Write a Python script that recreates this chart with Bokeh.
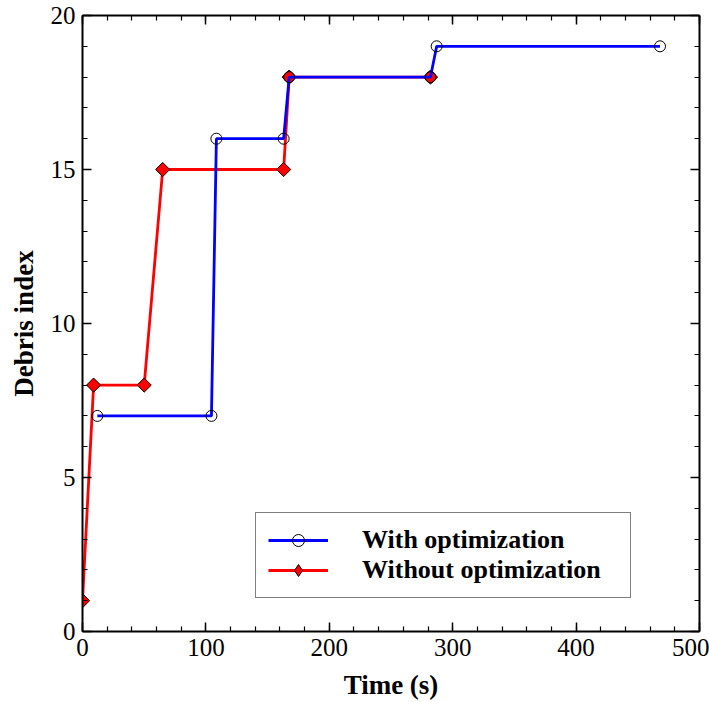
import numpy as np
from bokeh.plotting import figure
from bokeh.models import (ColumnDataSource, LinearAxis, SingleIntervalTicker, Range1d,
                          Legend, LegendItem, CustomJSTickFormatter)
from bokeh.embed import file_html
from bokeh.resources import INLINE

# Data
with_t = [12, 104.5, 108.5, 163, 167.5, 282, 287, 468]
with_idx = [7, 7, 16, 16, 18, 18, 19, 19]
without_t = [0, 9, 50, 65, 163, 167.5, 282]
without_idx = [1, 8, 8, 15, 15, 18, 18]
x_label = "Time (s)"
y_label = "Debris index"
series_names = ["With optimization", "Without optimization"]

FONT = "Liberation Serif"

p = figure(width=709, height=702, output_backend="svg", toolbar_location=None,
           x_range=Range1d(0, 500), y_range=Range1d(0, 20),
           min_border_left=82, min_border_right=10, min_border_top=15, min_border_bottom=60,
           x_axis_location=None, y_axis_location=None)
p.xgrid.visible = False
p.ygrid.visible = False
p.outline_line_color = None
p.background_fill_color = "white"
p.border_fill_color = "white"


def style_axis(ax, labels=True):
    ax.axis_line_color = "black"
    ax.axis_line_width = 2
    ax.major_tick_in = 9
    ax.major_tick_out = 0
    ax.minor_tick_in = 5
    ax.minor_tick_out = 0
    ax.major_tick_line_color = "black"
    ax.minor_tick_line_color = "black"
    ax.major_tick_line_width = 1.5
    ax.minor_tick_line_width = 1.2
    ax.major_label_text_font = FONT
    ax.major_label_text_font_size = "25px"
    ax.major_label_text_color = "black"
    ax.axis_label_text_font = FONT
    ax.axis_label_text_font_size = "27px"
    ax.axis_label_text_font_style = "bold"
    ax.axis_label_text_color = "black"
    if not labels:
        ax.formatter = CustomJSTickFormatter(code="return ''")
        ax.major_label_text_font_size = "8px"
        ax.major_label_standoff = 0


xb = LinearAxis(ticker=SingleIntervalTicker(interval=100, num_minor_ticks=5), axis_label=x_label)
style_axis(xb)
xb.major_label_standoff = 7
xb.axis_label_standoff = 11
p.add_layout(xb, "below")

yl = LinearAxis(ticker=SingleIntervalTicker(interval=5, num_minor_ticks=5), axis_label=y_label)
style_axis(yl)
yl.major_label_standoff = 7
yl.axis_label_standoff = 9
p.add_layout(yl, "left")

xt = LinearAxis(ticker=SingleIntervalTicker(interval=100, num_minor_ticks=5))
style_axis(xt, labels=False)
p.add_layout(xt, "above")

yr = LinearAxis(ticker=SingleIntervalTicker(interval=5, num_minor_ticks=5))
style_axis(yr, labels=False)
p.add_layout(yr, "right")

src_w = ColumnDataSource(dict(x=with_t, y=with_idx))
src_wo = ColumnDataSource(dict(x=without_t, y=without_idx))

rl = p.line("x", "y", source=src_wo, line_color="#ff0000", line_width=2.8)
rm = p.scatter("x", "y", source=src_wo, marker="square", angle=np.pi / 4, size=10,
               fill_color="#ff0000", line_color="black", line_width=1)
# diamond shape used only for the legend swatch (legend markers ignore angle)
rm_leg = p.scatter("x", "y", source=src_wo, marker="diamond", size=10,
                   fill_color="#ff0000", line_color="black", line_width=1, visible=False)
bl = p.line("x", "y", source=src_w, line_color="#0000ff", line_width=2.8)
bm = p.scatter("x", "y", source=src_w, marker="circle", size=11,
               fill_color=None, line_color="black", line_width=1)

legend = Legend(items=[LegendItem(label=series_names[0], renderers=[bl, bm]),
                       LegendItem(label=series_names[1], renderers=[rl, rm_leg])],
                location=(173, 33), orientation="vertical")
legend.label_text_font = FONT
legend.label_text_font_size = "26px"
legend.label_text_font_style = "bold"
legend.label_text_color = "black"
legend.border_line_color = "black"
legend.border_line_width = 1.5
legend.background_fill_color = "white"
legend.background_fill_alpha = 1
legend.inactive_fill_alpha = 0
legend.glyph_width = 60
legend.glyph_height = 30
legend.label_height = 29
legend.label_standoff = 34
legend.label_width = 256
legend.spacing = -4
legend.padding = 12
legend.margin = 0
legend.click_policy = "none"
p.add_layout(legend, "center")

open("out.html", "w").write(file_html(p, INLINE))
